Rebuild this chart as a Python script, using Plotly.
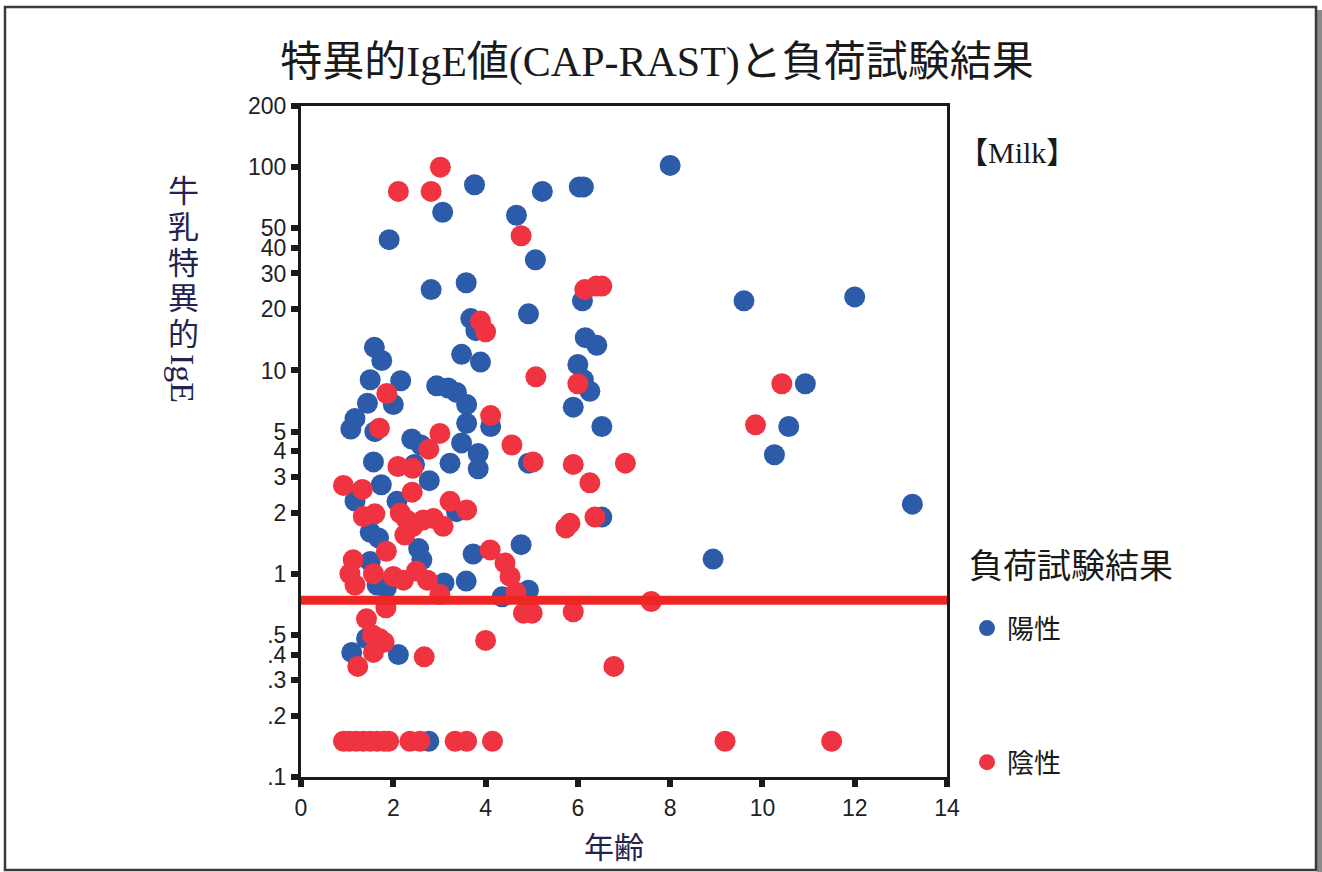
import math
import plotly.graph_objects as go

# 陽性: age (years) and milk-specific IgE (UA/mL)
pos_age = [8.0, 3.76, 5.23, 6.03, 6.12, 3.07, 4.67, 1.91, 5.08, 2.82, 3.58, 6.1,
           3.68, 3.79, 4.93, 6.16, 6.41, 1.59, 3.48, 1.75, 3.89, 6.0, 1.5, 2.16,
           6.12, 2.94, 3.19, 3.37, 6.26, 1.44, 2.0, 3.59, 5.9, 1.17, 3.59, 4.11,
           6.52, 1.08, 1.6, 2.4, 2.6, 3.48, 3.84, 1.57, 2.46, 3.23, 4.93, 3.84,
           2.78, 1.74, 1.17, 2.08, 3.37, 6.52, 1.5, 1.68, 4.77, 2.55, 3.73, 2.62,
           1.5, 1.65, 1.85, 3.1, 3.58, 4.93, 4.36, 1.42, 1.1, 2.11, 2.77, 9.6,
           12.0, 10.93, 10.57, 10.26, 13.25, 8.93]
pos_ige = [102, 82, 76, 80, 80, 60, 58, 44, 35, 25, 27, 22,
           18, 15.7, 19, 14.5, 13.3, 13.0, 12.0, 11.2, 11.0, 10.7, 9.0, 8.9,
           9.0, 8.4, 8.2, 7.8, 7.9, 6.9, 6.8, 6.8, 6.6, 5.8, 5.5, 5.3,
           5.3, 5.15, 5.0, 4.6, 4.3, 4.4, 3.9, 3.55, 3.45, 3.5, 3.5, 3.28,
           2.87, 2.74, 2.28, 2.27, 2.02, 1.9, 1.6, 1.5, 1.39, 1.33, 1.25, 1.17,
           1.15, 0.88, 0.85, 0.9, 0.92, 0.83, 0.77, 0.48, 0.41, 0.40, 0.15, 22,
           23, 8.6, 5.3, 3.85, 2.2, 1.18]

# 陰性: age (years) and milk-specific IgE (UA/mL)
neg_age = [3.02, 2.11, 2.82, 4.77, 6.15, 6.4, 6.52, 3.89, 4.0, 5.09, 6.0, 1.86,
           4.11, 1.7, 3.01, 4.57, 2.77, 5.03, 5.9, 7.03, 2.1, 2.42, 6.26, 0.92,
           1.33, 2.41, 3.23, 3.59, 1.35, 1.6, 2.15, 2.29, 2.43, 2.65, 2.87, 3.08,
           2.25, 6.37, 5.83, 5.74, 1.85, 4.1, 1.13, 4.42, 1.06, 1.57, 4.53, 1.17,
           2.0, 2.22, 2.5, 2.74, 4.66, 3.01, 7.59, 1.84, 5.9, 4.82, 5.01, 1.42,
           1.55, 1.7, 1.8, 4.0, 1.57, 2.67, 1.23, 6.78, 10.42, 9.85,
           0.92, 1.05, 1.2, 1.35, 1.5, 1.65, 1.8, 1.9, 2.36, 2.58, 3.34, 3.59,
           4.15, 9.19, 11.5]
neg_ige = [100, 76, 76, 46, 25, 26, 26, 17.5, 15.5, 9.3, 8.6, 7.7,
           6.0, 5.2, 4.9, 4.3, 4.1, 3.55, 3.45, 3.5, 3.37, 3.3, 2.8, 2.72,
           2.6, 2.52, 2.27, 2.06, 1.91, 1.97, 1.99, 1.84, 1.71, 1.84, 1.87, 1.71,
           1.55, 1.9, 1.77, 1.68, 1.29, 1.31, 1.17, 1.13, 1.0, 1.0, 0.97, 0.88,
           0.97, 0.93, 1.03, 0.93, 0.81, 0.79, 0.73, 0.68, 0.65, 0.64, 0.64, 0.6,
           0.5, 0.48, 0.46, 0.47, 0.41, 0.39, 0.35, 0.35, 8.6, 5.4,
           0.15, 0.15, 0.15, 0.15, 0.15, 0.15, 0.15, 0.15, 0.15, 0.15, 0.15, 0.15,
           0.15, 0.15, 0.15]

cutoff_ige = 0.74

x_tick_vals = [0, 2, 4, 6, 8, 10, 12, 14]
y_tick_vals = [0.1, 0.2, 0.3, 0.4, 0.5, 1, 2, 3, 4, 5, 10, 20, 30, 40, 50, 100, 200]
y_tick_text = [".1", ".2", ".3", ".4", ".5", "1", "2", "3", "4", "5",
               "10", "20", "30", "40", "50", "100", "200"]

# vertical y-axis title: stacked characters, then the rotated Latin part
y_title_chars = ["牛", "乳", "特", "異", "的"]
y_title_latin = "IgE"

W, H = 1322, 872
L, R, T, B = 301, 947, 106, 777


def px_x(p):
    return (p - L) / (R - L)


def px_y(p):
    return (B - p) / (B - T)


BLUE = "#2c5ba9"
RED = "#ef3340"
NAVY = "#23234f"
SANS = "Liberation Sans, Arial, sans-serif"
CJK = "Noto Sans CJK JP, sans-serif"
SERIF = "Liberation Serif, Noto Sans CJK JP, serif"

fig = go.Figure()
fig.add_trace(go.Scatter(
    x=pos_age, y=pos_ige, mode="markers", name="陽性", legendgroup="pos",
    marker=dict(size=21, color=BLUE, line=dict(width=0)),
))
fig.add_trace(go.Scatter(
    x=neg_age, y=neg_ige, mode="markers", name="陰性", legendgroup="neg",
    marker=dict(size=21, color=RED, line=dict(width=0)),
))
fig.add_trace(go.Scatter(
    x=[0, 14], y=[cutoff_ige, cutoff_ige], mode="lines", showlegend=False,
    line=dict(color="#ee2623", width=9), hoverinfo="skip",
))

axis_common = dict(
    showline=True, linecolor="#1a1a1a", linewidth=3, mirror=True,
    ticks="outside", ticklen=7, tickwidth=6, tickcolor="#1a1a1a",
    showgrid=False, zeroline=False,
    tickfont=dict(family=SANS, size=23, color="#222222"),
)

fig.update_layout(
    width=W, height=H, autosize=False,
    margin=dict(l=L, r=W - R, t=T, b=H - B, pad=0),
    paper_bgcolor="white", plot_bgcolor="white",
    title=dict(
        text="特異的IgE値(CAP-RAST)と負荷試験結果",
        x=0.497, xref="container", xanchor="center",
        y=1 - 61 / H, yref="container", yanchor="middle",
        font=dict(family=SERIF, size=42, color="#1a1a1a"),
    ),
    xaxis=dict(range=[0, 14], tickvals=x_tick_vals, ticklabelstandoff=1,
               **axis_common),
    yaxis=dict(type="log", range=[-1, math.log10(200)],
               tickvals=y_tick_vals, ticktext=y_tick_text, **axis_common),
    showlegend=True,
    legend=dict(
        x=px_x(967), xanchor="left", y=px_y(604), yanchor="top",
        traceorder="grouped", tracegroupgap=96, itemsizing="trace",
        font=dict(family=CJK, size=27, color="#1a1a1a"),
        bgcolor="rgba(0,0,0,0)",
    ),
)

annotations = [
    dict(text="【Milk】", x=px_x(956), y=px_y(152), xanchor="left", yanchor="middle",
         font=dict(family=SERIF, size=30, color="#1a1a1a")),
    dict(text="負荷試験結果", x=px_x(967), y=px_y(563), xanchor="left", yanchor="middle",
         font=dict(family=CJK, size=34, color="#1a1a1a")),
    dict(text=y_title_latin, x=px_x(183), y=px_y(378), textangle=90,
         xanchor="center", yanchor="middle",
         font=dict(family="Liberation Serif, serif", size=34, color=NAVY)),
    dict(text="年齢", x=px_x(614), y=px_y(845), xanchor="center", yanchor="middle",
         font=dict(family=CJK, size=30, color=NAVY)),
]
for i, ch in enumerate(y_title_chars):
    annotations.append(dict(
        text=ch, x=px_x(183), y=px_y(189 + 35.5 * i),
        xanchor="center", yanchor="middle",
        font=dict(family=CJK, size=31, color=NAVY),
    ))
for a in annotations:
    a.update(xref="paper", yref="paper", showarrow=False)
fig.update_layout(annotations=annotations)

# outer frame and its shadow
fig.add_shape(type="rect", xref="paper", yref="paper",
              x0=px_x(1317), x1=px_x(1322), y0=px_y(872), y1=px_y(10),
              fillcolor="#8a8a8a", line=dict(width=0), layer="below")
fig.add_shape(type="rect", xref="paper", yref="paper",
              x0=px_x(5), x1=px_x(1316), y0=px_y(870), y1=px_y(7),
              line=dict(color="#3a3a3a", width=2.5), fillcolor="rgba(0,0,0,0)")

fig.write_html("out.html")
